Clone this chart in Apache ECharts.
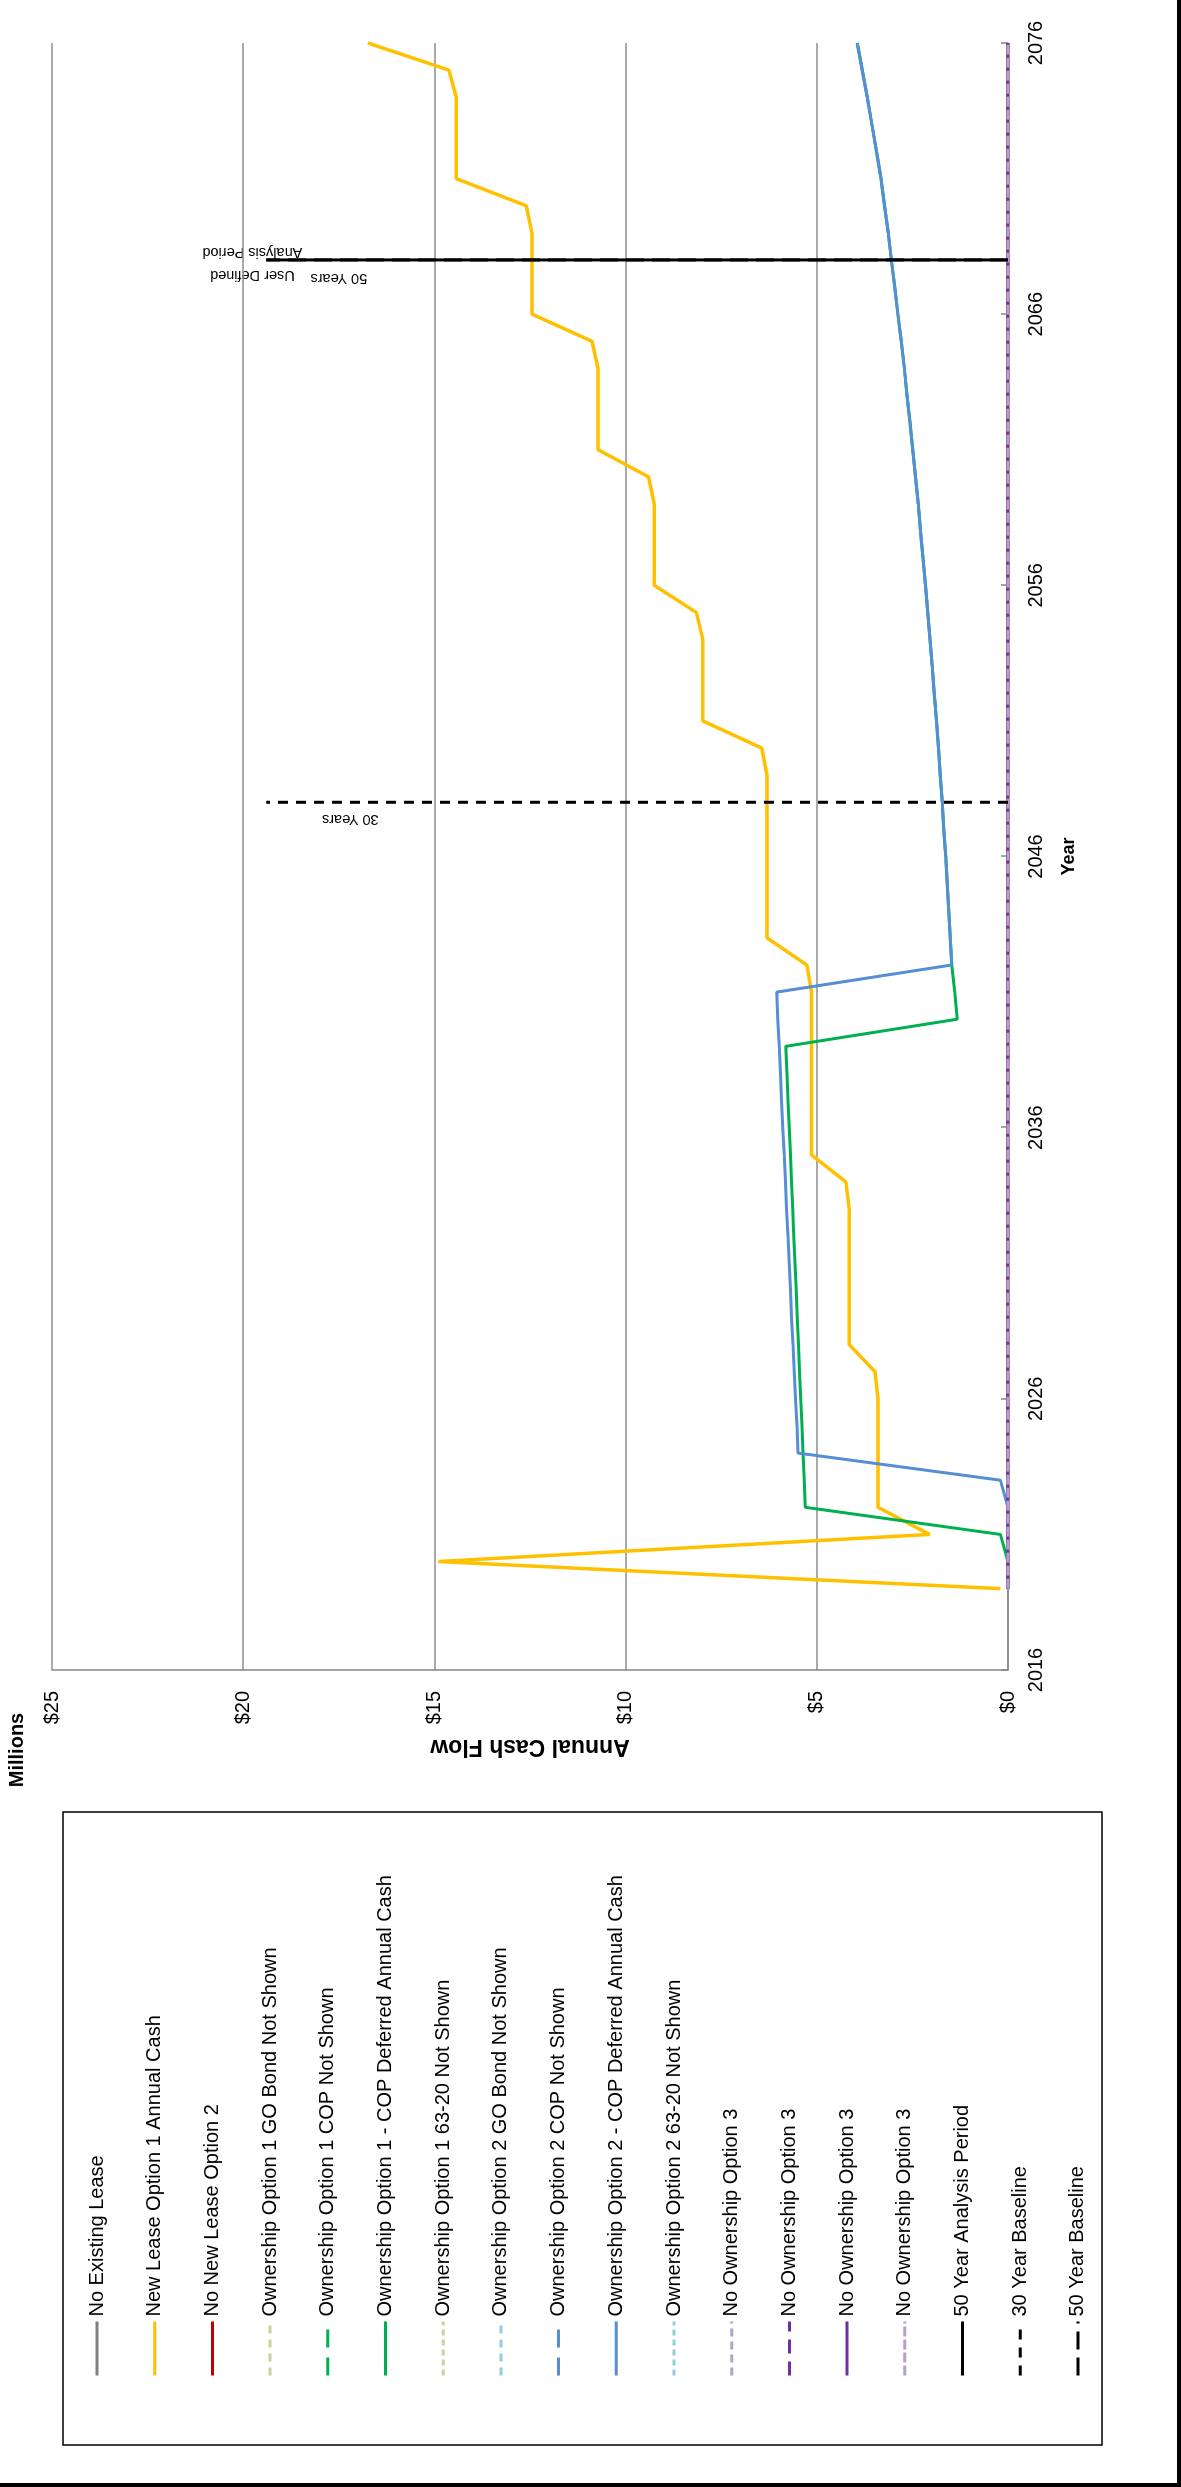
<!DOCTYPE html>
<html>
<head>
<meta charset="utf-8">
<script src="https://cdn.jsdelivr.net/npm/echarts@6/dist/echarts.min.js"></script>
<style>
  html, body { margin: 0; padding: 0; background: #fff; }
  body { width: 1181px; height: 2487px; overflow: hidden; position: relative; }
  /* The chart is laid out in landscape and turned a quarter turn counter-clockwise */
  #chart {
    position: absolute; left: 0; top: 0;
    width: 2487px; height: 1181px;
    transform-origin: 0 0;
    transform: translate(0, 2487px) rotate(-90deg);
  }
</style>
</head>
<body>
<div id="chart"></div>
<script>
// Years covered by the cash flow projection
const years = [2019, 2020, 2021, 2022, 2023, 2024, 2025, 2026, 2027, 2028,
  2029, 2030, 2031, 2032, 2033, 2034, 2035, 2036, 2037, 2038,
  2039, 2040, 2041, 2042, 2043, 2044, 2045, 2046, 2047, 2048,
  2049, 2050, 2051, 2052, 2053, 2054, 2055, 2056, 2057, 2058,
  2059, 2060, 2061, 2062, 2063, 2064, 2065, 2066, 2067, 2068,
  2069, 2070, 2071, 2072, 2073, 2074, 2075, 2076];

// Annual cash flow, $ millions
const newLease1 = [0.2, 14.9, 2.05, 3.40, 3.40, 3.40, 3.40, 3.40, 3.48, 4.15,
  4.15, 4.15, 4.15, 4.15, 4.15, 4.24, 5.14, 5.14, 5.14, 5.14,
  5.14, 5.14, 5.14, 5.26, 6.30, 6.30, 6.30, 6.30, 6.30, 6.30,
  6.30, 6.44, 7.98, 7.98, 7.98, 7.98, 8.15, 9.25, 9.25, 9.25,
  9.25, 9.40, 10.72, 10.72, 10.72, 10.72, 10.88, 12.45, 12.45, 12.45,
  12.45, 12.60, 14.43, 14.43, 14.43, 14.43, 14.62, 16.74];

const own1CopDeferred = [0, 0, 0.2, 5.30, 5.33, 5.36, 5.39, 5.42, 5.45, 5.48,
  5.51, 5.54, 5.57, 5.60, 5.63, 5.66, 5.69, 5.72, 5.75, 5.78,
  5.81, 1.33, 1.39, 1.47, 1.51, 1.55, 1.59, 1.63, 1.68, 1.72,
  1.77, 1.82, 1.87, 1.93, 1.98, 2.04, 2.10, 2.16, 2.22, 2.29,
  2.35, 2.42, 2.49, 2.56, 2.64, 2.71, 2.79, 2.88, 2.96, 3.05,
  3.13, 3.23, 3.32, 3.44, 3.56, 3.68, 3.81, 3.94];

const own2CopDeferred = [0, 0, 0, 0, 0.2, 5.49, 5.52, 5.56, 5.59, 5.62,
  5.66, 5.69, 5.72, 5.75, 5.79, 5.82, 5.85, 5.89, 5.92, 5.95,
  5.98, 6.02, 6.05, 1.47, 1.51, 1.55, 1.59, 1.63, 1.68, 1.72,
  1.77, 1.82, 1.87, 1.93, 1.98, 2.04, 2.10, 2.16, 2.22, 2.29,
  2.35, 2.42, 2.49, 2.56, 2.64, 2.71, 2.79, 2.88, 2.96, 3.05,
  3.13, 3.23, 3.32, 3.44, 3.56, 3.68, 3.81, 3.94];

const zeroFlow = [0, 0, 0, 0, 0, 0, 0, 0, 0, 0,
  0, 0, 0, 0, 0, 0, 0, 0, 0, 0,
  0, 0, 0, 0, 0, 0, 0, 0, 0, 0,
  0, 0, 0, 0, 0, 0, 0, 0, 0, 0,
  0, 0, 0, 0, 0, 0, 0, 0, 0, 0,
  0, 0, 0, 0, 0, 0, 0, 0];

// Analysis period markers
const baselineYear30 = 2048;
const baselineYear50 = 2068;
const baselineTop = 19.4;
const markerTexts = ['30 Years', '50 Years', 'User Defined\nAnalysis Period'];
const markerYears = [2048, 2068, 2068];
const markerValues = [17.2, 17.5, 19.76];

const yearMin = 2016, yearMax = 2076, yearStep = 10;
const cashMin = 0, cashMax = 25, cashStep = 5;

const FONT = 'Liberation Sans, Arial, sans-serif';

function pairs(vals) { return years.map((y, i) => [y, vals[i]]); }

function lineSeries(name, color, vals, type, width) {
  return {
    name: name, type: 'line', symbol: 'circle', showSymbol: false, animation: false,
    data: vals ? pairs(vals) : [],
    lineStyle: { color: color, width: width || 3, type: type || 'solid', cap: 'butt' },
    itemStyle: { color: color }
  };
}

function markerSeries(name, color, year, type) {
  return {
    name: name, type: 'line', symbol: 'circle', showSymbol: false, animation: false,
    data: [[year, 0], [year, baselineTop]],
    lineStyle: { color: color, width: 3, type: type, cap: 'butt' },
    itemStyle: { color: color }
  };
}

const series = [
  lineSeries('No Existing Lease', '#808080', zeroFlow),
  lineSeries('New Lease Option 1 Annual Cash', '#FFC000', newLease1, 'solid', 3.5),
  lineSeries('No New Lease Option 2', '#C00000', zeroFlow),
  lineSeries('Ownership Option 1 GO Bond Not Shown', '#C3D69B', null, [8, 6]),
  lineSeries('Ownership Option 1 COP Not Shown', '#00B050', null, [18, 10]),
  lineSeries('Ownership Option 1 - COP Deferred Annual Cash', '#00B050', own1CopDeferred),
  lineSeries('Ownership Option 1 63-20 Not Shown', '#C3D69B', null, [6, 4]),
  lineSeries('Ownership Option 2 GO Bond Not Shown', '#93CDDD', null, [8, 6]),
  lineSeries('Ownership Option 2 COP Not Shown', '#558ED5', null, [18, 10]),
  lineSeries('Ownership Option 2 - COP Deferred Annual Cash', '#558ED5', own2CopDeferred),
  lineSeries('Ownership Option 2 63-20 Not Shown', '#93CDDD', null, [6, 4]),
  lineSeries('No Ownership Option 3', '#B3A2C7', zeroFlow, [8, 5]),
  lineSeries('No Ownership Option 3 ', '#7030A0', zeroFlow, [14, 8]),
  lineSeries('No Ownership Option 3  ', '#7030A0', zeroFlow, 'solid'),
  lineSeries('No Ownership Option 3   ', '#B3A2C7', zeroFlow, [10, 3]),
  markerSeries('50 Year Analysis Period', '#000000', baselineYear50, 'solid'),
  markerSeries('30 Year Baseline', '#000000', baselineYear30, [10, 8]),
  markerSeries('50 Year Baseline', '#000000', baselineYear50, [18, 8])
];

const frameGraphics = [
  {
    id: 'legendBox', type: 'rect', silent: true,
    shape: { x: 42, y: 63, width: 633, height: 1039 },
    style: { fill: 'none', stroke: '#000', lineWidth: 1.5 }
  },
  {
    id: 'outerFrame', type: 'polyline', silent: true,
    shape: { points: [[2, -10], [2, 1179], [2500, 1179]] },
    style: { fill: 'none', stroke: '#000', lineWidth: 4 }
  },
  {
    id: 'unitsLabel', type: 'text', silent: true, x: 737, y: 17,
    style: { text: 'Millions', fontFamily: FONT, fontSize: 20, fontWeight: 'bold',
      fill: '#000', align: 'center', verticalAlign: 'middle' }
  }
];

const chart = echarts.init(document.getElementById('chart'), null, { renderer: 'canvas' });
chart.setOption({
  backgroundColor: '#ffffff',
  animation: false,
  textStyle: { fontFamily: FONT },
  grid: { left: 817, right: 43, top: 52, bottom: 173 },
  xAxis: {
    type: 'value', min: yearMin, max: yearMax, interval: yearStep,
    name: 'Year', nameLocation: 'middle', nameGap: 52,
    nameTextStyle: { fontFamily: FONT, fontSize: 18, fontWeight: 'bold', color: '#000' },
    axisLine: { show: true, lineStyle: { color: '#868686', width: 1.5 } },
    axisTick: { show: true, inside: true, length: 7, lineStyle: { color: '#868686', width: 1.5 } },
    axisLabel: { fontFamily: FONT, fontSize: 20, color: '#000', margin: 18, formatter: v => String(v) },
    splitLine: { show: false }
  },
  yAxis: {
    type: 'value', min: cashMin, max: cashMax, interval: cashStep,
    name: 'Annual Cash Flow', nameLocation: 'middle', nameGap: 60,
    nameTextStyle: { fontFamily: FONT, fontSize: 23, fontWeight: 'bold', color: '#000' },
    axisLine: { show: true, lineStyle: { color: '#868686', width: 1.5 } },
    axisTick: { show: false },
    axisLabel: { fontFamily: FONT, fontSize: 20, color: '#000', margin: 21, formatter: v => '$' + v },
    splitLine: { show: true, lineStyle: { color: '#8E8E8E', width: 1.5 } }
  },
  legend: {
    orient: 'vertical', left: 105, top: 82,
    itemWidth: 54, itemHeight: 20, itemGap: 37.7,
    selectedMode: false,
    itemStyle: { opacity: 0 },
    lineStyle: { width: 3 },
    textStyle: { fontFamily: FONT, fontSize: 20, lineHeight: 20, color: '#000' },
    data: series.map(s => s.name)
  },
  graphic: frameGraphics,
  series: series
});

// Marker captions: placed from axis coordinates, set just off the marker line
const captionShift = [-17, -18, -4];
const captions = markerTexts.map((t, i) => {
  const p = chart.convertToPixel({ gridIndex: 0 }, [markerYears[i], markerValues[i]]);
  return {
    id: 'caption' + i, type: 'text', silent: true,
    x: p[0] + captionShift[i], y: p[1], rotation: Math.PI / 2,
    style: { text: t, fontFamily: FONT, fontSize: 14.5, lineHeight: 23,
      fill: '#000', align: 'center', verticalAlign: 'middle' }
  };
});
chart.setOption({ graphic: frameGraphics.concat(captions) });
</script>
</body>
</html>
